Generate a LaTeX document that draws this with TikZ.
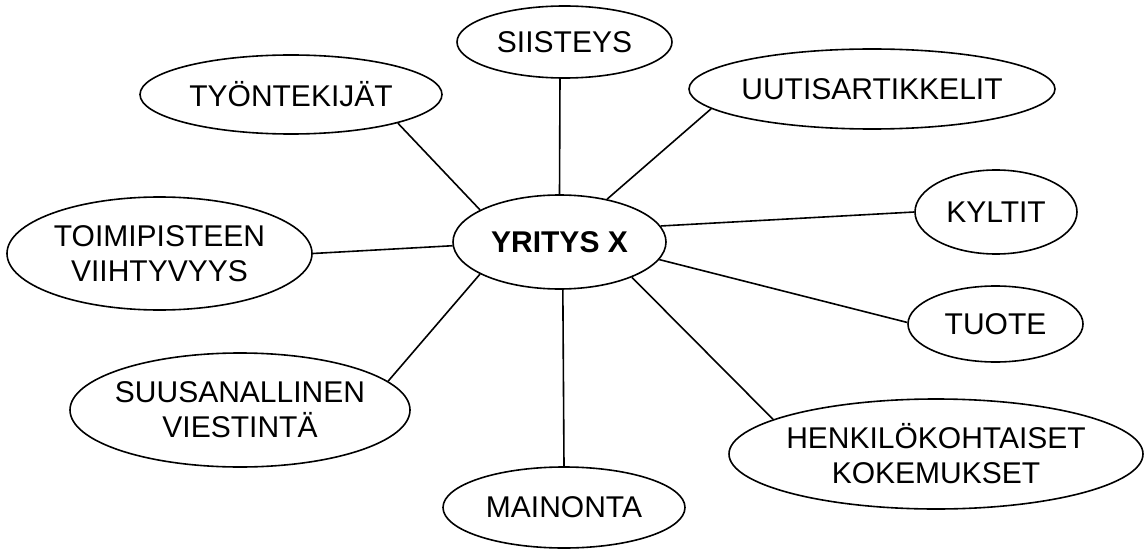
\documentclass[tikz,border=0pt]{standalone}
\usepackage{fontspec}
\setmainfont{Liberation Sans}
\usetikzlibrary{shapes.geometric}

\begin{document}
\begin{tikzpicture}
  [
    x=1pt, y=1pt,
    bubble/.style =
      {draw, ellipse, line width=1.6pt, inner xsep=-40pt, inner ysep=0pt,
       align=center, font=\fontsize{30}{35}\selectfont},
    hub/.style =
      {bubble, font=\fontsize{30}{35}\selectfont\bfseries},
    link/.style =
      {line width=1.6pt}
  ]

\useasboundingbox (0,0) rectangle (1145,550);

\node[hub, minimum width=213, minimum height=94] (yr) at (559.5,308) {YRITYS X};

\node[bubble, minimum width=215, minimum height=72] (sii) at (564.5,508) {SIISTEYS};
\node[bubble, minimum width=302, minimum height=79] (tyo) at (291,455.5) {TYÖNTEKIJÄT};
\node[bubble, minimum width=366, minimum height=80] (uut) at (872,461) {UUTISARTIKKELIT};
\node[bubble, minimum width=305, minimum height=113] (toi) at (159.5,296.5) {TOIMIPISTEEN\\VIIHTYVYYS};
\node[bubble, minimum width=162, minimum height=84] (kyl) at (996,338) {KYLTIT};
\node[bubble, minimum width=175, minimum height=76] (tuo) at (995.5,226) {TUOTE};
\node[bubble, minimum width=340, minimum height=114] (suu) at (240,140) {SUUSANALLINEN\\VIESTINTÄ};
\node[bubble, minimum width=242, minimum height=81] (mai) at (564,42.5) {MAINONTA};
\node[bubble, minimum width=414, minimum height=110] (hen) at (936,96) {HENKILÖKOHTAISET\\KOKEMUKSET};

% connectors
\draw[link] (yr.90) -- (sii.-97);
\draw[link] (yr.158) -- (tyo.-15);
\draw[link] (yr.42) -- (uut.-173.4);
\draw[link] (yr.182.7) -- (toi.0);
\draw[link] (yr.9.6) -- (kyl.180);
\draw[link] (yr.-10.2) -- (tuo.179.3);
\draw[link] (yr.202) -- (suu.11);
\draw[link] (yr.-86) -- (mai.90);
\draw[link] (yr.-26.1) -- (hen.168.6);

\end{tikzpicture}
\end{document}
